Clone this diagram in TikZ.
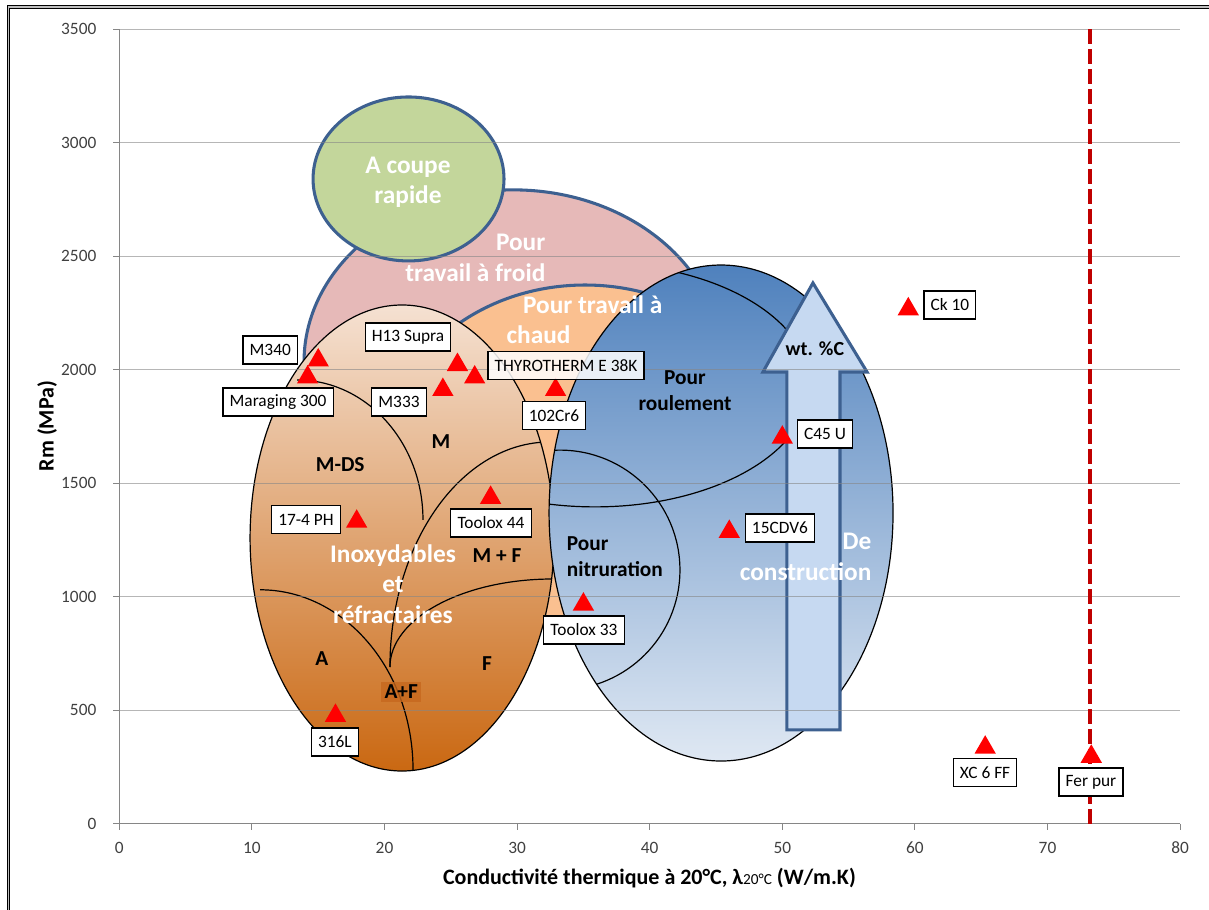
\documentclass[tikz,border=0pt]{standalone}
\usepackage{fontspec}
\setmainfont{Carlito}
\usetikzlibrary{shapes.geometric}
\definecolor{b1}{HTML}{3D6090}
\definecolor{pk}{HTML}{E6B9B8}
\definecolor{gn}{HTML}{C3D69B}
\definecolor{og}{HTML}{FAC090}
\definecolor{bg1}{HTML}{F5E1D2}
\definecolor{bg2}{HTML}{CA6812}
\definecolor{bl1}{HTML}{4F81BD}
\definecolor{bl2}{HTML}{DFE8F3}
\definecolor{ar}{HTML}{C6D9F1}
\definecolor{rd}{HTML}{C00000}
\definecolor{ax}{HTML}{868686}
\tikzset{
  family/.style={draw=b1,line width=2.3pt},
  thin line/.style={draw=black,line width=0.9pt},
  grade/.style={draw,fill=white,line width=0.9pt,inner xsep=5pt,inner ysep=0pt,
                minimum height=21pt,font=\fontsize{13}{15}\selectfont},
  grade pt/.style={regular polygon,regular polygon sides=3,fill=red,
                   minimum size=18.5pt,inner sep=0pt,yshift=-2.3pt},
  white txt/.style={text=white,align=center,font=\fontsize{19}{23}\selectfont\bfseries},
  black txt/.style={align=center,font=\fontsize{16}{19.5}\selectfont\bfseries},
  tick lbl/.style={text=black!75,font=\fontsize{13}{15}\selectfont},
  grid line/.style={draw=ax,line width=0.75pt},
  axis title/.style={font=\fontsize{16.5}{19}\selectfont\bfseries},
}

\begin{document}
\begin{tikzpicture}[x=9.945pt,y=0.17033pt]
  \useasboundingbox (-9.0,-378.7) rectangle (82.18,3628);
  \draw[line width=0.8pt,double=gray!50,double distance=1pt]
    (-8.36,-378.7) -- (-8.36,3597) -- (82.18,3597);
  % axes and ticks
  \draw[grid line] (0,3500) -- (0,0) -- (80,0);
  \foreach \y in {0,500,...,3500}{
    \draw[grid line] (-0.45,\y) -- (0,\y);
    \node[tick lbl,anchor=east] (y\y) at (-1.38,\y) {\y};
  }
  \foreach \x in {0,10,...,80}{
    \draw[grid line] (\x,0) -- (\x,-26.4);
    \node[tick lbl] (x\x) at (\x,-106) {\x};
  }
  \node[axis title,rotate=90] (ytitle) at (-5.45,1752) {Rm (MPa)};
  \node[axis title] (xtitle) at (39.98,-238)
    {Conductivité thermique à 20°C, λ{\fontsize{11.5}{13}\selectfont\mdseries 20°C} (W/m.K)};

  % families of steels
  \filldraw[fill=pk,family] (29.69,2035) ellipse [x radius=15.76,y radius=757];
  \filldraw[fill=gn,family] (21.81,2840) ellipse [x radius=7.20,y radius=361];
  \filldraw[fill=og,family] (35.12,1616) ellipse [x radius=15.08,y radius=757];
  \shade[top color=bg1,bottom color=bg2] (21.32,1259) ellipse [x radius=11.46,y radius=1026];
  \begin{scope}
    \clip (21.32,1259) ellipse [x radius=11.46,y radius=1026];
    \draw[thin line] (13.40,1955) arc [start angle=90,end angle=0,x radius=9.50,y radius=616];
    \draw[thin line] (20.41,691) arc [start angle=180,end angle=90,x radius=12.07,y radius=991];
    \draw[thin line] (20.41,691) arc [start angle=180,end angle=90,x radius=12.29,y radius=387.5];
    \draw[thin line] (10.61,1031) arc [start angle=90,end angle=0,x radius=11.54,y radius=793];
  \end{scope}
  \draw[thin line] (21.32,1259) ellipse [x radius=11.46,y radius=1026];
  \shade[top color=bl1,bottom color=bl2] (45.38,1369) ellipse [x radius=12.97,y radius=1092];
  \begin{scope}
    \clip (45.38,1369) ellipse [x radius=12.97,y radius=1092];
    \draw[thin line] (35.87,1933) ellipse [x radius=16.21,y radius=537];
    \draw[thin line] (33.23,1118) ellipse [x radius=9.05,y radius=528];
  \end{scope}
  \draw[thin line] (45.38,1369) ellipse [x radius=12.97,y radius=1092];
  \filldraw[fill=ar,family] (50.35,414) -- (50.35,1990) -- (48.54,1990) -- (52.31,2382)
    -- (56.39,1990) -- (54.35,1990) -- (54.35,414) -- cycle;

  % grid over the shapes
  \foreach \y in {500,1000,...,3500}
    \draw[grid line,opacity=0.6] (0,\y) -- (80,\y);
  \draw[rd,line width=3.6pt,dash pattern=on 11pt off 4pt] (73.2,0) -- (73.2,3520);

  \node[white txt] (coupe) at (21.77,2825) {A coupe\\rapide};
  \node[white txt,align=right,anchor=east] (froid) at (32.48,2492) {Pour\\travail à froid};
  \node[white txt,anchor=west] (chaud1) at (30.1,2285) {Pour travail à};
  \node[white txt,anchor=west] (chaud2) at (28.85,2153) {chaud};
  \node[white txt] (inox) at (20.64,1057) {Inoxydables\\et\\réfractaires};
  \node[white txt,align=right,anchor=east] (constr) at (57.07,1176) {De\\construction};
  \node[black txt] (roul) at (42.66,1907) {Pour\\roulement};
  \node[black txt,align=left,anchor=west] (nitr) at (33.4,1176) {Pour\\nitruration};
  \node[black txt] (mds) at (16.66,1581) {M-DS};
  \node[black txt] (mart) at (24.26,1682) {M};
  \node[black txt] (mf) at (28.48,1180) {M + F};
  \node[black txt] (aus) at (15.28,727) {A};
  \node[black txt] (fer) at (27.73,705) {F};
  \node[black txt,fill={rgb,255:red,198;green,104;blue,30},fill opacity=0.8,text opacity=1,
        inner sep=2.5pt] (af) at (21.26,581) {A+F};
  \node[font=\fontsize{15}{18}\selectfont\bfseries] (wtc) at (52.46,2092) {wt. \%C};

  % grades
  \node[grade pt] (m340) at (15.0,2055) {};
  \node[grade pt] (mar300) at (14.2,1980) {};
  \node[grade pt] (h13) at (25.5,2035) {};
  \node[grade pt] (thyro) at (26.8,1980) {};
  \node[grade pt] (m333) at (24.4,1925) {};
  \node[grade pt] (cr6) at (32.9,1925) {};
  \node[grade pt] (ph174) at (17.9,1345) {};
  \node[grade pt] (tx44) at (28.0,1450) {};
  \node[grade pt] (tx33) at (35.0,980) {};
  \node[grade pt] (l316) at (16.3,490) {};
  \node[grade pt] (c45) at (50.0,1715) {};
  \node[grade pt] (cdv6) at (46.0,1300) {};
  \node[grade pt] (ck10) at (59.5,2280) {};
  \node[grade pt] (xc6) at (65.3,350) {};
  \node[grade pt] (ferpur) at (73.3,310) {};
  \node[grade] (m340 lbl) at (11.38,2087) {M340};
  \node[grade] (mar300 lbl) at (11.97,1858) {Maraging 300};
  \node[grade] (h13 lbl) at (21.77,2144) {H13 Supra};
  \node[grade,fill opacity=0.85,text opacity=1,draw opacity=1] (thyro lbl) at (33.69,2017) {THYROTHERM E 38K};
  \node[grade] (m333 lbl) at (21.09,1858) {M333};
  \node[grade] (cr6 lbl) at (32.78,1797) {102Cr6};
  \node[grade] (ph174 lbl) at (14.08,1339) {17-4 PH};
  \node[grade] (tx44 lbl) at (28.03,1325) {Toolox 44};
  \node[grade] (tx33 lbl) at (35.04,854) {Toolox 33};
  \node[grade] (l316 lbl) at (16.26,361) {316L};
  \node[grade] (c45 lbl) at (53.22,1717) {C45 U};
  \node[grade] (cdv6 lbl) at (49.82,1303) {15CDV6};
  \node[grade] (ck10 lbl) at (62.64,2285) {Ck 10};
  \node[grade] (xc6 lbl) at (65.29,225) {XC 6 FF};
  \node[grade] (ferpur lbl) at (73.28,185) {Fer pur};
\end{tikzpicture}
\end{document}
